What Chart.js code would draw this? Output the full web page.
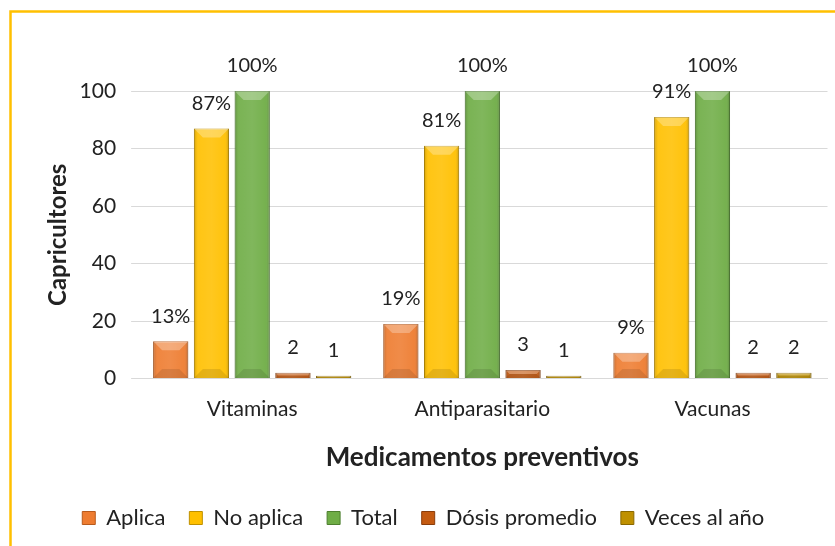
<!DOCTYPE html>
<html>
<head>
<meta charset="utf-8">
<script src="https://cdn.jsdelivr.net/npm/chart.js@4.4.0/dist/chart.umd.min.js"></script>
<style>
  html, body { margin: 0; padding: 0; background: #fff; }
  #wrap { width: 835px; height: 546px; position: relative; }
</style>
</head>
<body>
<div id="wrap"><canvas id="c" width="835" height="546"></canvas></div>
<script>
const categories = ['Vitaminas', 'Antiparasitario', 'Vacunas'];
const seriesNames = ['Aplica', 'No aplica', 'Total', 'Dósis promedio', 'Veces al año'];
const aplica = [13, 19, 9];
const noAplica = [87, 81, 91];
const total = [100, 100, 100];
const dosisPromedio = [2, 3, 2];
const vecesAlAnio = [1, 1, 2];
const percentSeries = [true, true, true, false, false];
const yTicks = [0, 20, 40, 60, 80, 100];

const fills = ['#EE7C30', '#FFC000', '#6FAD46', '#C45A11', '#BF9000'];
const edges = ['#B85A1C', '#BF9000', '#4E7F2F', '#8A3D0B', '#8A6800'];

const FONT = 'Lato, "Open Sans", sans-serif';
const TEXT = '#222222';

const frame = {
  id: 'frame',
  beforeDraw(chart) {
    const c = chart.ctx;
    c.save();
    c.fillStyle = '#fff';
    c.fillRect(0, 0, chart.width, chart.height);
    c.strokeStyle = '#FFC000';
    c.lineWidth = 2.5;
    c.strokeRect(10.5, 11.5, chart.width + 20, chart.height + 20);
    c.restore();
  }
};

const bevel = {
  id: 'bevel',
  afterDatasetsDraw(chart) {
    const c = chart.ctx;
    chart.data.datasets.forEach((ds, di) => {
      const meta = chart.getDatasetMeta(di);
      meta.data.forEach((el) => {
        const x0 = el.x - el.width / 2, x1 = el.x + el.width / 2;
        const top = Math.min(el.y, el.base), bot = Math.max(el.y, el.base);
        const h = bot - top;
        if (h <= 0) return;
        c.save();
        c.beginPath();
        c.rect(x0, top, el.width, h);
        c.clip();
        const g = c.createLinearGradient(x0, 0, x1, 0);
        g.addColorStop(0, 'rgba(0,0,0,0.18)');
        g.addColorStop(0.12, 'rgba(255,255,255,0.08)');
        g.addColorStop(0.5, 'rgba(255,255,255,0.12)');
        g.addColorStop(0.88, 'rgba(255,255,255,0.05)');
        g.addColorStop(1, 'rgba(0,0,0,0.22)');
        c.fillStyle = g;
        c.fillRect(x0, top, el.width, h);
        const b = Math.min(9, h / 2);
        c.fillStyle = 'rgba(255,255,255,0.28)';
        c.beginPath();
        c.moveTo(x0, top); c.lineTo(x1, top); c.lineTo(x1 - b, top + b); c.lineTo(x0 + b, top + b);
        c.closePath(); c.fill();
        c.fillStyle = 'rgba(0,0,0,0.10)';
        c.beginPath();
        c.moveTo(x0, bot); c.lineTo(x1, bot); c.lineTo(x1 - b, bot - b); c.lineTo(x0 + b, bot - b);
        c.closePath(); c.fill();
        c.restore();
      });
    });
  }
};

const valueLabels = {
  id: 'valueLabels',
  afterDatasetsDraw(chart) {
    const c = chart.ctx;
    c.save();
    c.font = '20px ' + FONT;
    c.fillStyle = TEXT;
    c.textAlign = 'center';
    c.textBaseline = 'middle';
    chart.data.datasets.forEach((ds, di) => {
      const meta = chart.getDatasetMeta(di);
      meta.data.forEach((el, i) => {
        const v = ds.data[i];
        const txt = percentSeries[di] ? v + '%' : String(v);
        c.fillText(txt, el.x, el.y - 25);
      });
    });
    c.restore();
  }
};

const seriesData = [aplica, noAplica, total, dosisPromedio, vecesAlAnio];

new Chart(document.getElementById('c'), {
  type: 'bar',
  data: {
    labels: categories,
    datasets: seriesNames.map((n, i) => ({
      label: n,
      data: seriesData[i],
      backgroundColor: fills[i],
      borderColor: edges[i],
      borderWidth: 1,
      categoryPercentage: 0.885,
      barPercentage: 0.865
    }))
  },
  options: {
    responsive: false,
    animation: false,
    devicePixelRatio: 1,
    layout: { padding: { left: 19, right: 7.5, top: 91, bottom: 7 } },
    plugins: {
      legend: {
        position: 'bottom',
        maxHeight: 56,
        labels: {
          boxWidth: 13, boxHeight: 13, padding: 24,
          color: TEXT,
          font: { family: FONT, size: 22 }
        }
      },
      tooltip: { enabled: false }
    },
    scales: {
      x: {
        grid: { display: false },
        border: { color: '#D9D9D9', width: 1 },
        ticks: { color: TEXT, font: { family: FONT, size: 21 }, padding: 10.4 },
        title: {
          display: true, text: 'Medicamentos preventivos', color: TEXT,
          font: { family: FONT, size: 26, weight: 'bold' }, padding: { top: 9.8, bottom: 9.4 }
        }
      },
      y: {
        min: 0, max: 100,
        afterBuildTicks(axis) { axis.ticks = yTicks.map(v => ({ value: v })); },
        grid: { color: '#D9D9D9', drawTicks: true, tickLength: 6, tickColor: '#D9D9D9' },
        border: { display: false },
        ticks: { color: TEXT, font: { family: FONT, size: 21 }, padding: 15 },
        title: {
          display: true, text: 'Capricultores', color: TEXT,
          font: { family: FONT, size: 24, weight: 'bold' }, padding: { top: 24.6, bottom: -7.8 }
        }
      }
    }
  },
  plugins: [frame, bevel, valueLabels]
});
</script>
</body>
</html>
